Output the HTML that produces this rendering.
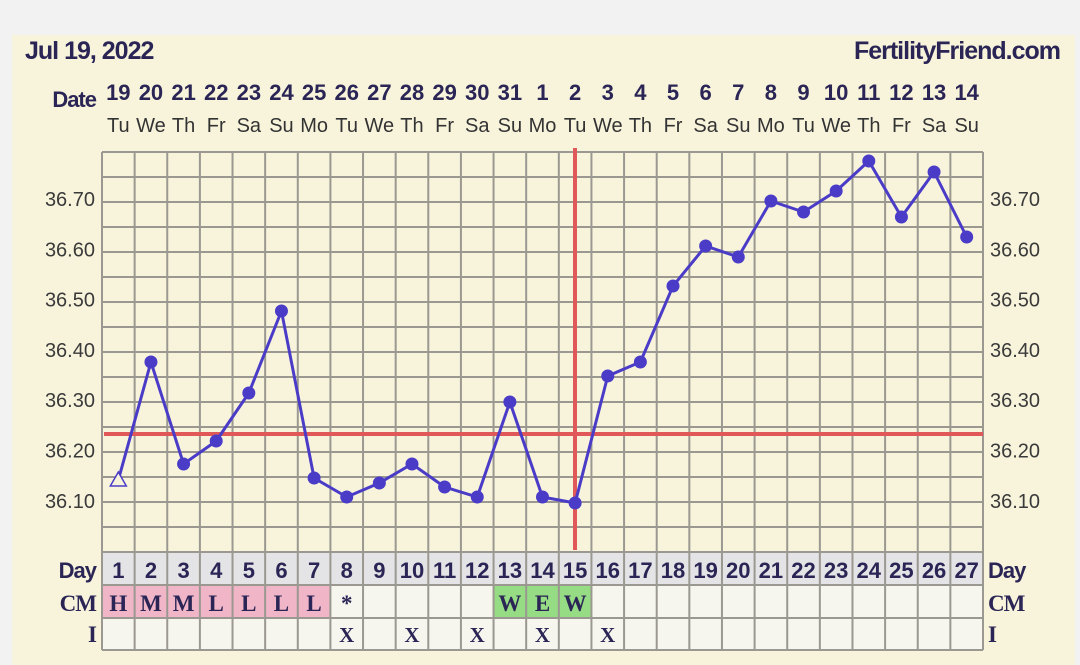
<!DOCTYPE html>
<html><head><meta charset="utf-8"><style>
body{margin:0;background:#f2f2f2;width:1080px;height:665px;overflow:hidden}
svg{display:block}
svg{font-family:"Liberation Sans",sans-serif}
.sf{font-family:"Liberation Serif",serif}
</style></head><body>
<svg width="1080" height="665" xmlns="http://www.w3.org/2000/svg">
<rect x="12" y="35" width="1063" height="640" fill="#f8f4dc"/>
<text x="25" y="59" font-size="25" font-weight="bold" fill="#2a2555" letter-spacing="-1">Jul 19, 2022</text>
<text x="1060" y="59" font-size="25" font-weight="bold" fill="#2a2555" text-anchor="end" letter-spacing="-1">FertilityFriend.com</text>
<text x="96" y="107" font-size="22" font-weight="bold" fill="#2a2555" text-anchor="end" letter-spacing="-1">Date</text>
<g id="g"></g>
</svg>
<script>
const NS="http://www.w3.org/2000/svg",g=document.getElementById('g');
function el(t,a,txt){const e=document.createElementNS(NS,t);for(const k in a)e.setAttribute(k,a[k]);if(txt!=null)e.textContent=txt;g.appendChild(e);return e;}
const L=102,R=983,W=(R-L)/27,T=152,B=552;
const dates=[19,20,21,22,23,24,25,26,27,28,29,30,31,1,2,3,4,5,6,7,8,9,10,11,12,13,14];
const dn=["Tu","We","Th","Fr","Sa","Su","Mo"];
for(let i=0;i<27;i++){const cx=L+W*(i+.5);
 el('text',{x:cx,y:100,'font-size':22,'font-weight':'bold',fill:'#2a2555','text-anchor':'middle'},dates[i]);
 el('text',{x:cx,y:132,'font-size':20,fill:'#333','text-anchor':'middle'},dn[i%7]);}
const cm=["H","M","M","L","L","L","L","*","","","","","W","E","W"];
const ix=[8,10,12,14,16];
for(let i=0;i<27;i++){const x=L+W*i;
 el('rect',{x:x,y:552,width:W,height:33,fill:'#e4e4e6'});
 let c=i<7?'#f0b6c8':(i>=12&&i<=14?'#96dc84':'#f6f6ee');
 el('rect',{x:x,y:585,width:W,height:33,fill:c});
 el('rect',{x:x,y:618,width:W,height:32,fill:'#f6f6ee'});
 const cx=x+W/2;
 el('text',{x:cx,y:578,'font-size':22,'font-weight':'bold',fill:'#2a2555','text-anchor':'middle'},i+1);
 if(cm[i])el('text',{x:cx,y:611,'font-size':23,'font-weight':'bold',fill:'#2a2555','text-anchor':'middle','class':'sf'},cm[i]);
 if(ix.includes(i+1))el('text',{x:cx,y:642,'font-size':21,'font-weight':'bold',fill:'#2a2555','text-anchor':'middle','class':'sf'},'X');
}
for(let k=0;k<=16;k++){const y=T+k*25;el('line',{x1:L,x2:R,y1:y,y2:y,stroke:'#9a9890','stroke-width':2});}
for(const y of [585,618,650])el('line',{x1:L,x2:R,y1:y,y2:y,stroke:'#9a9890','stroke-width':2});
for(let i=0;i<=27;i++){const x=L+W*i;el('line',{x1:x,x2:x,y1:T,y2:650,stroke:'#9a9890','stroke-width':2});}
const labs=["36.70","36.60","36.50","36.40","36.30","36.20","36.10"];
labs.forEach((s,k)=>{const y=199+k*50.3+7;
 el('text',{x:95,y:y,'font-size':20,fill:'#3a3a3a','text-anchor':'end'},s);
 el('text',{x:990,y:y,'font-size':20,fill:'#3a3a3a'},s);});
[["Day",578],["CM",611],["I",642]].forEach(([s,y],k)=>{
 const a={'font-size':k?23:22,'font-weight':'bold',fill:'#2a2555','letter-spacing':-1};
 if(k)a['class']='sf';
 el('text',Object.assign({x:96,y:y,'text-anchor':'end'},a),s);
 el('text',Object.assign({x:988,y:y},a),s);});
el('line',{x1:104,x2:983,y1:434,y2:434,stroke:'#e05858','stroke-width':4});
el('line',{x1:575,x2:575,y1:148,y2:550,stroke:'#e05858','stroke-width':4});
const ys=[480,362,464,441,393,311,478,497,483,464,487,497,402,497,503,376,362,286,246,257,201,212,191,161,217,172,237];
const pts=ys.map((y,i)=>[L+W*(i+.5),y]);
el('polyline',{points:pts.map(p=>p.join(',')).join(' '),fill:'none',stroke:'#4b3cc8','stroke-width':3});
pts.forEach((p,i)=>{if(i==0){el('polygon',{points:`${p[0]},${p[1]-8} ${p[0]-8},${p[1]+6} ${p[0]+8},${p[1]+6}`,fill:'#f8f4dc',stroke:'#4b3cc8','stroke-width':1.5});}
 else el('circle',{cx:p[0],cy:p[1],r:6.5,fill:'#4b3cc8'});});
</script>
</body></html>
